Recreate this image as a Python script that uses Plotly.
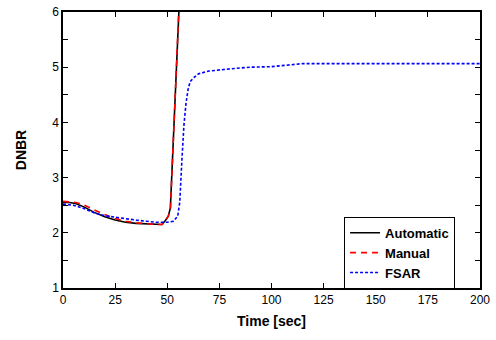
import plotly.graph_objects as go

# Automatic (black solid)
auto_t = [0, 3, 6, 10, 15, 20, 25, 30, 35, 40, 45, 47.5, 49, 50.5, 51.5, 52.5, 53.5, 54.5, 55.5, 56.5]
auto_y = [2.55, 2.55, 2.53, 2.47, 2.37, 2.29, 2.23, 2.19, 2.17, 2.16, 2.15, 2.15, 2.22, 2.3, 2.45, 3.3, 4.3, 5.2, 6.0, 6.8]

# Manual (red dashed)
man_t = [0, 3, 6, 9, 12, 15, 20, 25, 30, 35, 40, 45, 47.5, 49, 50.5, 51.5, 52.5, 53.5, 54.5, 55.5, 56.5]
man_y = [2.57, 2.56, 2.55, 2.52, 2.47, 2.41, 2.33, 2.26, 2.21, 2.18, 2.16, 2.15, 2.15, 2.21, 2.3, 2.42, 3.3, 4.3, 5.2, 6.0, 6.8]

# FSAR (blue dotted)
fsar_t = [0, 5, 10, 15, 20, 25, 30, 35, 40, 45, 50, 53, 55, 56, 57, 58, 59, 60, 61, 63, 65, 70, 80, 90, 100, 110, 115, 130, 150, 175, 200]
fsar_y = [2.52, 2.5, 2.44, 2.36, 2.31, 2.28, 2.26, 2.23, 2.21, 2.19, 2.19, 2.21, 2.3, 2.55, 3.3, 3.95, 4.35, 4.6, 4.74, 4.82, 4.88, 4.93, 4.97, 5.0, 5.01, 5.05, 5.065, 5.065, 5.065, 5.065, 5.065]

FONT = "Liberation Sans, Arial, sans-serif"

fig = go.Figure()
fig.add_trace(go.Scatter(x=auto_t, y=auto_y, mode="lines", name="Automatic",
                         line=dict(color="black", width=1.6, dash="solid")))
fig.add_trace(go.Scatter(x=man_t, y=man_y, mode="lines", name="Manual",
                         line=dict(color="red", width=1.6, dash="6px,5px")))
fig.add_trace(go.Scatter(x=fsar_t, y=fsar_y, mode="lines", name="FSAR",
                         line=dict(color="blue", width=1.6, dash="3px,2px")))

fig.update_layout(
    width=496, height=340,
    margin=dict(l=62.5, r=16, t=11.5, b=51.5),
    paper_bgcolor="white", plot_bgcolor="white",
    font=dict(family=FONT, size=12, color="black"),
    legend=dict(x=0.674, y=0.258, xanchor="left", yanchor="top",
                bordercolor="black", borderwidth=1, bgcolor="white",
                font=dict(size=13, family=FONT, weight="bold"),
                tracegroupgap=0, itemwidth=30),
    showlegend=True,
)
fig.update_xaxes(range=[0, 200], tickvals=[0, 25, 50, 75, 100, 125, 150, 175, 200],
                 automargin=False,
                 ticks="inside", ticklen=5, tickwidth=1, tickcolor="black",
                 showline=True, linecolor="black", linewidth=1.5, mirror="ticks",
                 showgrid=False, zeroline=False,
                 title=dict(text="<b>Time [sec]</b>", font=dict(size=14), standoff=10))
fig.update_yaxes(range=[1, 6], tickvals=[1, 2, 3, 4, 5, 6],
                 automargin=False,
                 ticks="inside", ticklen=5, tickwidth=1, tickcolor="black",
                 minor=dict(dtick=0.5, tick0=1, ticks="inside", ticklen=5, tickcolor="black"),
                 showline=True, linecolor="black", linewidth=1.5, mirror="ticks",
                 showgrid=False, zeroline=False,
                 title=dict(text="<b>DNBR</b>", font=dict(size=14), standoff=22))

fig.write_html("out.html")
